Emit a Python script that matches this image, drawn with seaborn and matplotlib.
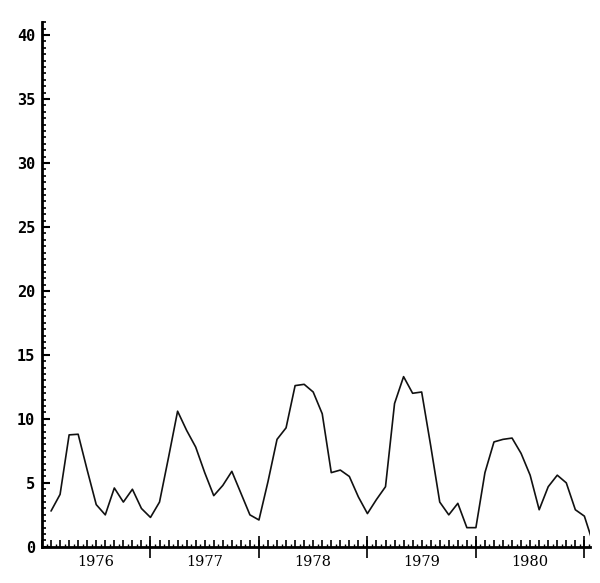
import numpy as np
import seaborn as sns
import matplotlib.pyplot as plt
from matplotlib.ticker import MultipleLocator

# monthly values, Jan 1976 .. Jan 1981
values = [2.8, 4.1, 8.75, 8.8, 6.0, 3.3, 2.5, 4.6, 3.5, 4.5, 3.0, 2.3,
          3.5, 7.0, 10.6, 9.1, 7.8, 5.8, 4.0, 4.8, 5.9, 4.2, 2.5, 2.1,
          5.1, 8.4, 9.3, 12.6, 12.7, 12.1, 10.4, 5.8, 6.0, 5.5, 3.9, 2.6,
          3.7, 4.7, 11.2, 13.3, 12.0, 12.1, 7.9, 3.5, 2.5, 3.4, 1.5, 1.5,
          5.8, 8.2, 8.4, 8.5, 7.3, 5.6, 2.9, 4.7, 5.6, 5.0, 2.9, 2.4,
          0.2]
months = list(range(1, len(values) + 1))
years = ['1976', '1977', '1978', '1979', '1980']
year_mid = [6, 18, 30, 42, 54]
year_edges = [12, 24, 36, 48, 60]
y_ticks = [0, 5, 10, 15, 20, 25, 30, 35, 40]

sns.set_style('ticks')
fig = plt.figure(figsize=(6, 5.83), dpi=100)
ax = fig.add_axes([0.07, 0.062, 0.913, 0.9])

sns.lineplot(x=months, y=values, color='#111111', linewidth=1.2, ax=ax)

ax.set_xlim(0, 60.6)
ax.set_ylim(0, 41)
sns.despine(ax=ax)
for s in ['left', 'bottom']:
    ax.spines[s].set_linewidth(2)
    ax.spines[s].set_color('black')

ax.set_yticks(y_ticks)
ax.set_yticklabels([str(v) for v in y_ticks], family='DejaVu Sans Mono',
                   fontweight='bold', fontsize=11, color='black')
ax.yaxis.set_minor_locator(MultipleLocator(0.5))
ax.tick_params(axis='y', which='both', left=True, colors='black')
ax.tick_params(axis='y', which='major', direction='in', length=6, width=1.5, pad=5)
ax.tick_params(axis='y', which='minor', direction='in', length=3, width=1.2)

# month ticks on the main axis
ax.xaxis.set_major_locator(MultipleLocator(1))
ax.xaxis.set_minor_locator(MultipleLocator(0.5))
ax.set_xticklabels([])
ax.tick_params(axis='x', which='both', bottom=True, colors='black')
ax.tick_params(axis='x', which='major', direction='in', length=5, width=1.2)
ax.tick_params(axis='x', which='minor', direction='in', length=2, width=1.0)

# year boundaries
sec = ax.secondary_xaxis('bottom')
sec.set_xticks(year_edges)
sec.set_xticklabels([])
sec.tick_params(direction='inout', length=16, width=1.2, colors='black')
sec.spines['bottom'].set_visible(False)

# year labels
lab = ax.secondary_xaxis('bottom')
lab.set_xticks(year_mid)
lab.set_xticklabels(years, family='DejaVu Serif', fontsize=10.5, color='black')
lab.tick_params(length=0, pad=6)
lab.spines['bottom'].set_visible(False)

ax.set_xlabel('')
ax.set_ylabel('')
fig.savefig('out.png', dpi=100)
